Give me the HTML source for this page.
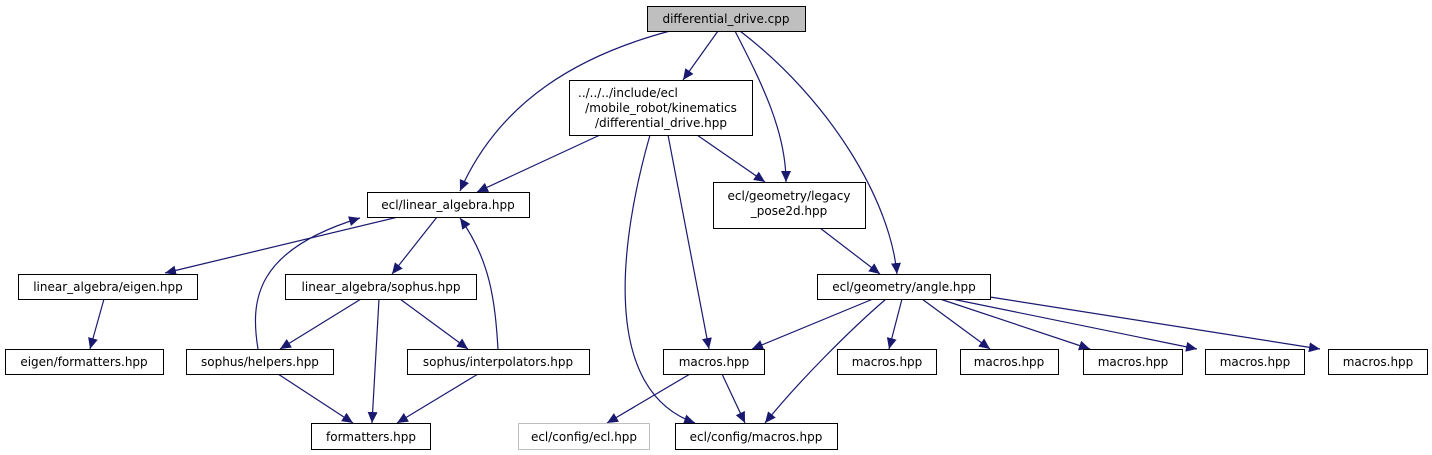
<!DOCTYPE html>
<html><head><meta charset="utf-8"><style>
html,body{margin:0;padding:0;background:#fff;}
svg{display:block;}
text{font-family:"DejaVu Sans","Liberation Sans",sans-serif;font-size:12px;fill:#000;}
</style></head><body>
<svg width="1432" height="455" viewBox="0 0 1432 455" xmlns="http://www.w3.org/2000/svg">
<defs>
<marker id="a" markerUnits="userSpaceOnUse" markerWidth="12" markerHeight="10" refX="11" refY="5" orient="auto">
<path d="M0,0 L11,5 L0,10 Z" fill="#191970"/>
</marker>
</defs>
<g fill="none" stroke="#191970" stroke-width="1.2" marker-end="url(#a)">
<path d="M670,31 C580,55 500,100 460,191"/>
<path d="M718,31 L683,80"/>
<path d="M735,31 C760,80 786,130 786,182"/>
<path d="M740,31 C830,100 890,200 897,274"/>
<path d="M600,135 L477,192"/>
<path d="M650,135 C620,240 600,390 695,423"/>
<path d="M668,135 L709,349"/>
<path d="M697,135 L765,182"/>
<path d="M820,228 L880,274"/>
<path d="M398,217 L165,273"/>
<path d="M437,217 L392,274"/>
<path d="M258,349 C250,300 255,250 360,218"/>
<path d="M498,349 C495,300 490,260 460,218"/>
<path d="M361,299 L280,349"/>
<path d="M379,299 L372,423"/>
<path d="M400,299 L468,349"/>
<path d="M104,299 L90,349"/>
<path d="M278,374 L353,423"/>
<path d="M478,374 L397,423"/>
<path d="M690,374 L607,423"/>
<path d="M722,374 L745,423"/>
<path d="M873,299 L752,349"/>
<path d="M886,299 C850,330 800,380 765,423"/>
<path d="M902,299 L889,349"/>
<path d="M922,299 L990,349"/>
<path d="M940,299 L1090,349"/>
<path d="M952,299 L1197,349"/>
<path d="M990,297 L1320,349"/>
</g>
<g stroke="#000" stroke-width="1" fill="#fff">
<rect x="647.5" y="6.5" width="158" height="25" fill="#bfbfbf"/>
<rect x="569.5" y="80.5" width="183" height="55"/>
<rect x="367.5" y="192.5" width="162" height="25"/>
<rect x="713.5" y="182.5" width="152" height="46"/>
<rect x="18.5" y="274.5" width="179" height="25"/>
<rect x="285.5" y="274.5" width="191" height="25"/>
<rect x="817.5" y="274.5" width="173" height="25"/>
<rect x="5.5" y="349.5" width="158" height="25"/>
<rect x="186.5" y="349.5" width="147" height="25"/>
<rect x="407.5" y="349.5" width="182" height="25"/>
<rect x="663.5" y="349.5" width="101" height="25"/>
<rect x="837.5" y="349.5" width="99" height="25"/>
<rect x="960.5" y="349.5" width="98" height="25"/>
<rect x="1083.5" y="349.5" width="99" height="25"/>
<rect x="1205.5" y="349.5" width="99" height="25"/>
<rect x="1328.5" y="349.5" width="99" height="25"/>
<rect x="311.5" y="423.5" width="119" height="26"/>
<rect x="518.5" y="423.5" width="131" height="26" stroke="#bfbfbf"/>
<rect x="675.5" y="423.5" width="162" height="26"/>
</g>
<g text-anchor="middle">
<text x="726" y="23">differential_drive.cpp</text>
<text x="578" y="97" text-anchor="start">../../../include/ecl</text>
<text x="661" y="112">/mobile_robot/kinematics</text>
<text x="661" y="127">/differential_drive.hpp</text>
<text x="448" y="209">ecl/linear_algebra.hpp</text>
<text x="789" y="200">ecl/geometry/legacy</text>
<text x="789" y="215">_pose2d.hpp</text>
<text x="108" y="291">linear_algebra/eigen.hpp</text>
<text x="381" y="291">linear_algebra/sophus.hpp</text>
<text x="904" y="291">ecl/geometry/angle.hpp</text>
<text x="84" y="366">eigen/formatters.hpp</text>
<text x="260" y="366">sophus/helpers.hpp</text>
<text x="498" y="366">sophus/interpolators.hpp</text>
<text x="714" y="366">macros.hpp</text>
<text x="887" y="366">macros.hpp</text>
<text x="1009" y="366">macros.hpp</text>
<text x="1133" y="366">macros.hpp</text>
<text x="1255" y="366">macros.hpp</text>
<text x="1378" y="366">macros.hpp</text>
<text x="371" y="441">formatters.hpp</text>
<text x="584" y="441">ecl/config/ecl.hpp</text>
<text x="756" y="441">ecl/config/macros.hpp</text>
</g>
</svg>
</body></html>
